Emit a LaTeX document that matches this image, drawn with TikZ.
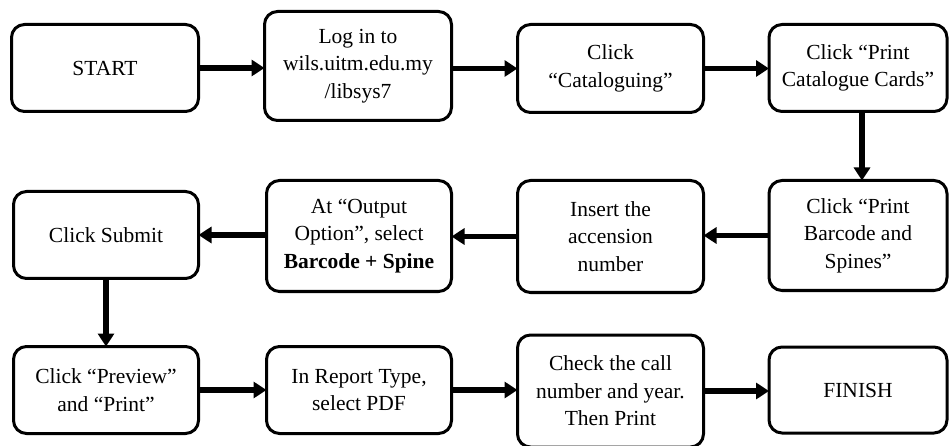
\documentclass[tikz,border=0pt]{standalone}
\usepackage{fontspec}
\setmainfont{Liberation Serif}
\usetikzlibrary{arrows.meta}

\tikzset{
  stepbox/.style={draw=black, line width=3pt, rounded corners=13pt, fill=white,
    align=center, inner sep=0pt, outer sep=0pt,
    font=\fontsize{21.5}{27.5}\selectfont},
  flow/.style={line width=5.5pt, -{Triangle[length=13pt,width=16pt]}}
}

\begin{document}
\begin{tikzpicture}[x=1pt,y=-1pt]
  \useasboundingbox (0,0) rectangle (950,446);

  % first row, left to right
  \node[stepbox, minimum width=187pt, minimum height=87pt]  (start)  at (105,68)   {START};
  \node[stepbox, minimum width=187pt, minimum height=109pt] (login)  at (358,66)   {Log in to\\wils.uitm.edu.my\\/libsys7};
  \node[stepbox, minimum width=186pt, minimum height=88pt]  (catal)  at (610.5,68.5) {Click\\“Cataloguing”};
  \node[stepbox, minimum width=178pt, minimum height=87pt]  (cards)  at (858,68)   {Click “Print\\Catalogue Cards”};

  % second row, right to left
  \node[stepbox, minimum width=178pt, minimum height=110pt] (barcode) at (858,235.5)  {Click “Print\\Barcode and\\Spines”};
  \node[stepbox, minimum width=186pt, minimum height=112pt] (access)  at (610.5,236.5) {Insert the\\accension\\number};
  \node[stepbox, minimum width=185pt, minimum height=111pt] (output)  at (359,236)    {At “Output\\Option”, select\\\textbf{Barcode + Spine}};
  \node[stepbox, minimum width=185pt, minimum height=87pt]  (submit)  at (106,235)    {Click Submit};

  % third row, left to right
  \node[stepbox, minimum width=185pt, minimum height=87pt]  (preview) at (106,390)    {Click “Preview”\\and “Print”};
  \node[stepbox, minimum width=185pt, minimum height=87pt]  (report)  at (359,390)    {In Report Type,\\select PDF};
  \node[stepbox, minimum width=186pt, minimum height=112pt] (check)   at (610.5,391)  {Check the call\\number and year.\\Then Print};
  \node[stepbox, minimum width=178pt, minimum height=86pt]  (finish)  at (858,390)    {FINISH};

  % connectors, kept horizontal within each row
  \draw[flow] (start.east) -- (start.east -| login.west);
  \draw[flow] (login.east |- catal.west) -- (catal.west);
  \draw[flow] (catal.east) -- (catal.east -| cards.west);
  \draw[flow] ([xshift=4pt]cards.south) -- ([xshift=4pt]barcode.north);
  \draw[flow] (barcode.west) -- (barcode.west -| access.east);
  \draw[flow] (access.west -| access.west) -- (access.west -| output.east);
  \draw[flow] (output.west |- submit.east) -- (submit.east);
  \draw[flow] (submit.south) -- (preview.north);
  \draw[flow] (preview.east) -- (preview.east -| report.west);
  \draw[flow] (report.east) -- (report.east -| check.west);
  \draw[flow] (check.east) -- (check.east -| finish.west);
\end{tikzpicture}
\end{document}
